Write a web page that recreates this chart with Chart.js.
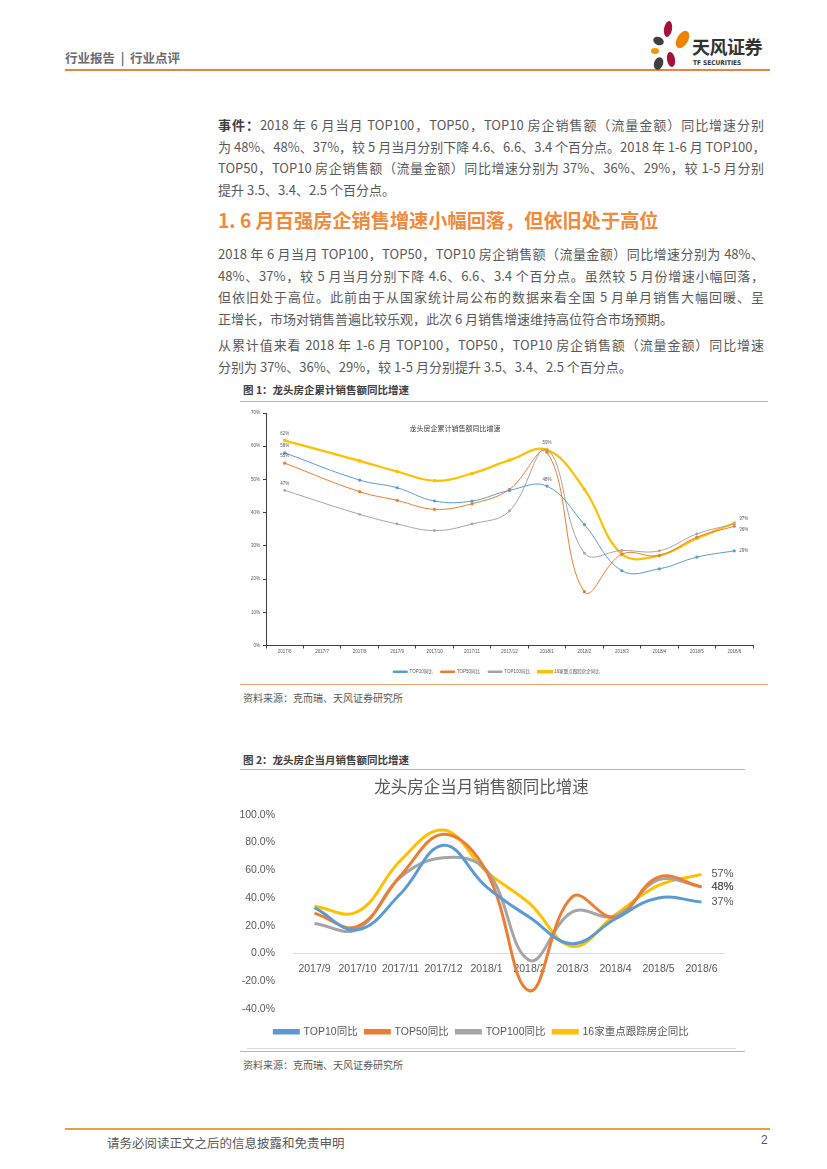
<!DOCTYPE html>
<html>
<head>
<meta charset="utf-8">
<script src="https://cdn.jsdelivr.net/npm/chart.js@4.4.0/dist/chart.umd.min.js"></script>
<style>
  html, body { margin: 0; padding: 0; background: #fff; }
  body { width: 827px; height: 1169px; position: relative; overflow: hidden;
         font-family: "Noto Sans CJK SC", "Noto Sans", sans-serif; color: #595959; }
  .abs { position: absolute; }
  .hline { position: absolute; height: 0; }
  .para { position: absolute; left: 218px; width: 546px; font-size: 13px; line-height: 21.5px; color: #595959; }
  .para .ln { text-align: justify; text-align-last: justify; white-space: nowrap; }
  .para .ln.last { text-align-last: left; }
  .cap { position: absolute; left: 243px; font-size: 10.5px; font-weight: bold; color: #404040; }
  .src { position: absolute; left: 243px; font-size: 10px; color: #595959; }
  .petal { position: absolute; border-radius: 50%; }
</style>
</head>
<body>
<script>
// 图1：龙头房企累计销售额同比增速（%）
const cumMonths = ['2017/6', '2017/7', '2017/8', '2017/9', '2017/10', '2017/11', '2017/12',
  '2018/1', '2018/2', '2018/3', '2018/4', '2018/5', '2018/6'];
const cumTop10 = [58, null, 49.8, 47.5, 43.5, 43.5, 46.7, 48, 36.4, 22.5, 23.1, 26.6, 28.5];
const cumTop50 = [54.9, null, 46.3, 43.7, 41, 42.7, 47, 58.2, 16.2, 27.5, 27.1, 32.6, 35.9];
const cumTop100 = [46.7, null, 39.5, 36.6, 34.6, 36.6, 40.5, 58.9, 27.8, 28.6, 28.5, 33.6, 36.6];
const cumTop16 = [61.7, null, 55.6, 52.4, 49.6, 51.8, 55.8, 58.9, 47, 27.5, 27.1, 32.2, 36.9];
const cumYTicks = [0, 10, 20, 30, 40, 50, 60, 70];

// 图2：龙头房企当月销售额同比增速（%）
const monMonths = ['2017/9', '2017/10', '2017/11', '2017/12', '2018/1', '2018/2', '2018/3',
  '2018/4', '2018/5', '2018/6'];
const monTop10 = [33, 17, 43, 78, 48, 26, 7, 25, 40, 37];
const monTop50 = [29, 19.5, 56, 86, 59, -27, 41, 26, 55, 48];
const monTop100 = [21.5, 17.5, 55, 69, 60, -5, 30, 27, 53, 48];
const monTop16 = [34, 30, 67, 89, 59, 36, 5, 28, 49, 57];
const monYTicks = [-40, -20, 0, 20, 40, 60, 80, 100];

const seriesNames = ['TOP10同比', 'TOP50同比', 'TOP100同比', '16家重点跟踪房企同比'];
const BLUE = '#5B9BD5', ORANGE = '#ED7D31', GRAY = '#A5A5A5', YELLOW = '#FFC000';
</script>

<!-- header -->
<div class="abs" style="left:65px;top:48px;font-size:12.5px;font-weight:bold;color:#6b6b6b;white-space:pre;">行业报告  |  行业点评</div>
<div class="hline" style="left:65px;top:69px;width:705px;border-top:2px solid #E8853D;"></div>
<div class="petal" style="left:664px;top:21px;width:8px;height:16px;background:#A3123A;transform:rotate(10deg);"></div>
<div class="petal" style="left:677px;top:30px;width:11px;height:19px;background:#EF8200;transform:rotate(30deg);"></div>
<div class="petal" style="left:653px;top:37px;width:11px;height:8px;background:#404040;transform:rotate(25deg);"></div>
<div class="petal" style="left:651px;top:48px;width:8px;height:6px;background:#F39800;"></div>
<div class="petal" style="left:667px;top:52px;width:8px;height:15px;background:#A3123A;transform:rotate(-10deg);"></div>
<div class="petal" style="left:654px;top:57px;width:9px;height:13px;background:#404040;transform:rotate(20deg);"></div>
<div class="abs" style="left:692px;top:33px;font-size:18px;font-weight:bold;color:#333;letter-spacing:-0.5px;">天风证券</div>
<div class="abs" style="left:693px;top:59px;font-size:6.5px;font-weight:bold;color:#333;font-family:'Liberation Sans Narrow','DejaVu Sans Condensed',sans-serif;">TF SECURITIES</div>

<!-- body text -->
<div class="para" style="top:114px;">
  <div class="ln"><b style="color:#404040">事件：</b>2018 年 6 月当月 TOP100，TOP50，TOP10 房企销售额（流量金额）同比增速分别</div>
  <div class="ln">为 48%、48%、37%，较 5 月当月分别下降 4.6、6.6、3.4 个百分点。2018 年 1-6 月 TOP100，</div>
  <div class="ln">TOP50，TOP10 房企销售额（流量金额）同比增速分别为 37%、36%、29%，较 1-5 月分别</div>
  <div class="ln last">提升 3.5、3.4、2.5 个百分点。</div>
</div>
<div class="abs" style="left:218px;top:206px;font-size:19.2px;font-weight:bold;color:#F08A3C;white-space:nowrap;">1. 6 月百强房企销售增速小幅回落，但依旧处于高位</div>
<div class="para" style="top:243px;">
  <div class="ln">2018 年 6 月当月 TOP100，TOP50，TOP10 房企销售额（流量金额）同比增速分别为 48%、</div>
  <div class="ln">48%、37%，较 5 月当月分别下降 4.6、6.6、3.4 个百分点。虽然较 5 月份增速小幅回落，</div>
  <div class="ln">但依旧处于高位。此前由于从国家统计局公布的数据来看全国 5 月单月销售大幅回暖、呈</div>
  <div class="ln last">正增长，市场对销售普遍比较乐观，此次 6 月销售增速维持高位符合市场预期。</div>
</div>
<div class="para" style="top:334px;">
  <div class="ln">从累计值来看 2018 年 1-6 月 TOP100，TOP50，TOP10 房企销售额（流量金额）同比增速</div>
  <div class="ln last">分别为 37%、36%、29%，较 1-5 月分别提升 3.5、3.4、2.5 个百分点。</div>
</div>

<!-- figure 1 -->
<div class="cap" style="top:382px;">图 1：龙头房企累计销售额同比增速</div>
<div class="hline" style="left:240px;top:401px;width:528px;border-top:1.5px solid #F2A46C;"></div>
<div class="abs" style="left:240px;top:404px;width:528px;height:280px;"><canvas id="cumChart"></canvas></div>
<div class="abs" style="left:355px;top:423px;width:200px;text-align:center;font-size:7px;color:#404040;">龙头房企累计销售额同比增速</div>
<div class="hline" style="left:240px;top:684px;width:528px;border-top:1.5px solid #F2A46C;"></div>
<div class="src" style="top:690px;">资料来源：克而瑞、天风证券研究所</div>

<!-- figure 2 -->
<div class="cap" style="top:752px;">图 2：龙头房企当月销售额同比增速</div>
<div class="hline" style="left:240px;top:769px;width:505px;border-top:1.5px solid #F2A46C;"></div>
<div class="abs" style="left:240px;top:772px;width:505px;height:275px;"><canvas id="monChart"></canvas></div>
<div class="hline" style="left:247px;top:1048px;width:489px;border-top:1px solid #D9D9D9;"></div>
<div class="hline" style="left:240px;top:1051px;width:505px;border-top:1.5px solid #F2A46C;"></div>
<div class="src" style="top:1057px;">资料来源：克而瑞、天风证券研究所</div>

<!-- footer -->
<div class="hline" style="left:65px;top:1128px;width:705px;border-top:2px solid #E9A03B;"></div>
<div class="abs" style="left:107px;top:1133px;font-size:12.5px;color:#595959;">请务必阅读正文之后的信息披露和免责申明</div>
<div class="abs" style="left:761px;top:1133px;font-size:12px;color:#595959;font-family:'Liberation Sans',sans-serif;">2</div>

<script>
// point labels: dataset index, point index, offset from the point, alignment
const cumPointLabels = [
  { ds: 3, i: 0, dx: 0, dy: -7, align: 'center' },
  { ds: 0, i: 0, dx: 0, dy: -7, align: 'center' },
  { ds: 1, i: 0, dx: 0, dy: -7, align: 'center' },
  { ds: 2, i: 0, dx: 0, dy: -7, align: 'center' },
  { ds: 3, i: 7, dx: 0, dy: -7, align: 'center' },
  { ds: 0, i: 7, dx: 0, dy: -6, align: 'center' },
  { ds: 2, i: 12, dx: 5, dy: -5, align: 'left' },
  { ds: 1, i: 12, dx: 5, dy: 4, align: 'left' },
  { ds: 0, i: 12, dx: 5, dy: 0, align: 'left' }
];
const monPointLabels = [
  { ds: 3, i: 9, dx: 10, dy: 0, align: 'left' },
  { ds: 2, i: 9, dx: 10, dy: 0, align: 'left' },
  { ds: 1, i: 9, dx: 10, dy: 0, align: 'left' },
  { ds: 0, i: 9, dx: 10, dy: 0, align: 'left' }
];

function pointLabelPlugin(id, specs, font) {
  return {
    id: id,
    afterDatasetsDraw(chart) {
      const ctx = chart.ctx;
      ctx.save();
      ctx.font = font;
      ctx.fillStyle = '#595959';
      ctx.textBaseline = 'middle';
      specs.forEach(s => {
        const el = chart.getDatasetMeta(s.ds).data[s.i];
        const v = chart.data.datasets[s.ds].data[s.i];
        ctx.textAlign = s.align;
        ctx.fillText(Math.round(v) + '%', el.x + s.dx, el.y + s.dy);
      });
      ctx.restore();
    }
  };
}

Chart.defaults.font.family = "'Liberation Sans', 'Noto Sans CJK SC', sans-serif";
Chart.defaults.color = '#595959';
Chart.defaults.animation = false;

function cumDataset(label, data, color, width, style, radius) {
  return {
    label: label, data: data, borderColor: color, backgroundColor: color,
    borderWidth: width, pointStyle: style, pointRadius: radius, pointBorderWidth: 0,
    pointBackgroundColor: color, tension: 0.4, spanGaps: true
  };
}

new Chart(document.getElementById('cumChart'), {
  type: 'line',
  data: {
    labels: cumMonths,
    datasets: [
      cumDataset(seriesNames[0], cumTop10, BLUE, 1, 'circle', 1.6),
      cumDataset(seriesNames[1], cumTop50, ORANGE, 1, 'circle', 1.6),
      cumDataset(seriesNames[2], cumTop100, GRAY, 1, 'circle', 1.4),
      cumDataset(seriesNames[3], cumTop16, YELLOW, 2.2, 'rect', 2.2)
    ]
  },
  options: {
    responsive: true,
    maintainAspectRatio: false,
    layout: { padding: { top: 9, right: 15, left: 0, bottom: 0 } },
    plugins: {
      legend: {
        position: 'bottom',
        labels: { font: { size: 4.5 }, boxWidth: 14, boxHeight: 1.5, padding: 8, color: '#595959' }
      },
      tooltip: { enabled: false }
    },
    scales: {
      x: {
        offset: true,
        grid: { offset: true, drawOnChartArea: false, tickLength: 3, color: '#404040' },
        border: { color: '#404040' },
        ticks: { font: { size: 4.5 }, maxRotation: 0, autoSkip: false, padding: 1 },
        afterFit: s => { s.height = 16; }
      },
      y: {
        min: cumYTicks[0],
        max: cumYTicks[cumYTicks.length - 1],
        afterBuildTicks: s => { s.ticks = cumYTicks.map(v => ({ value: v })); },
        ticks: { font: { size: 4.5 }, callback: v => v + '%', padding: 3 },
        grid: { drawOnChartArea: false, tickLength: 3, color: '#404040' },
        border: { color: '#404040' },
        afterFit: s => { s.width = 26; }
      }
    }
  },
  plugins: [pointLabelPlugin('cumLabels', cumPointLabels, "4.5px 'Liberation Sans', sans-serif")]
});

function monDataset(label, data, color) {
  return {
    label: label, data: data, borderColor: color, backgroundColor: color,
    borderWidth: 3, pointRadius: 0, tension: 0.4
  };
}

new Chart(document.getElementById('monChart'), {
  type: 'line',
  data: {
    labels: monMonths,
    datasets: [
      monDataset(seriesNames[0], monTop10, BLUE),
      monDataset(seriesNames[1], monTop50, ORANGE),
      monDataset(seriesNames[2], monTop100, GRAY),
      monDataset(seriesNames[3], monTop16, YELLOW)
    ]
  },
  options: {
    responsive: true,
    maintainAspectRatio: false,
    layout: { padding: { top: 0, right: 22, left: 0, bottom: 0 } },
    plugins: {
      title: {
        display: true,
        text: '龙头房企当月销售额同比增速',
        color: '#595959',
        font: { size: 16.5, weight: 'normal', family: "'Noto Sans CJK SC', sans-serif" },
        padding: { top: 5, bottom: 18 }
      },
      legend: {
        position: 'bottom',
        title: { display: true, text: ' ', font: { size: 1 }, padding: { top: 4.4, bottom: 4.4 } },
        labels: { font: { size: 10.5 }, boxWidth: 24, boxHeight: 2.5, padding: 7.7, color: '#595959' }
      },
      tooltip: { enabled: false }
    },
    scales: {
      x: {
        position: { y: 0 },
        offset: true,
        grid: { display: false },
        border: { display: true, color: '#D9D9D9', width: 1 },
        ticks: { font: { size: 10.5 }, maxRotation: 0, autoSkip: false, padding: 1 }
      },
      y: {
        min: monYTicks[0],
        max: monYTicks[monYTicks.length - 1],
        afterBuildTicks: s => { s.ticks = monYTicks.map(v => ({ value: v })); },
        ticks: { font: { size: 10.5 }, callback: v => v.toFixed(1) + '%', padding: 10 },
        grid: { display: false },
        border: { display: false },
        afterFit: s => { s.width = 53; }
      }
    }
  },
  plugins: [pointLabelPlugin('monLabels', monPointLabels, "11px 'Liberation Sans', sans-serif")]
});
</script>
</body>
</html>
